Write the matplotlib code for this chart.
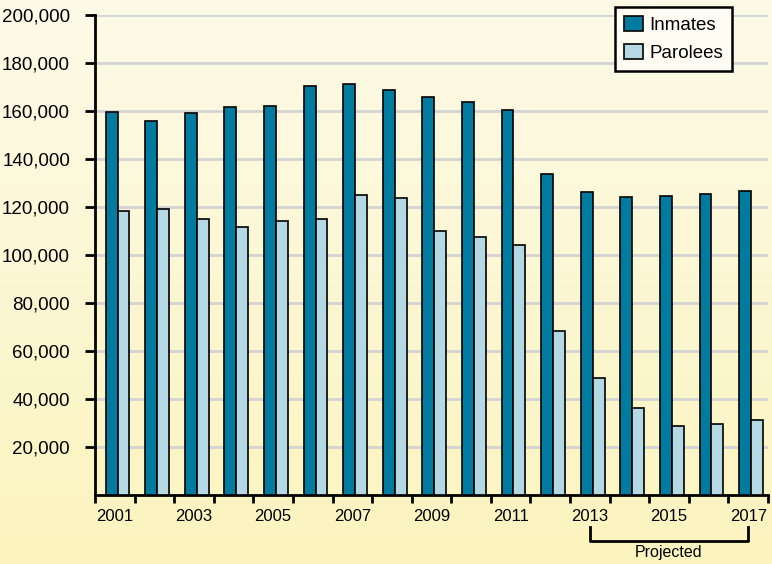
import numpy as np
import matplotlib.pyplot as plt
import matplotlib.transforms as mtransforms
from matplotlib.ticker import FuncFormatter

plt.rcParams['font.family'] = ['Liberation Sans', 'DejaVu Sans']

# Data
years = list(range(2001, 2018))
inmates = [159600, 155800, 159000, 161500, 162000, 170400, 171200, 168700, 165800,
           163700, 160400, 133600, 126200, 124200, 124600, 125300, 126700]
parolees = [118300, 119000, 114800, 111500, 114000, 115000, 124800, 123600, 110000,
            107300, 104300, 68500, 48700, 36300, 28800, 29600, 31200]
year_labels = [str(y) if y % 2 == 1 else '' for y in years]

fig = plt.figure(figsize=(7.72, 5.64), dpi=100)

# gradient background
bg = fig.add_axes([0, 0, 1, 1], zorder=-10)
grad = np.linspace(0, 1, 256).reshape(-1, 1)
top = np.array([253, 250, 232]) / 255
bottom = np.array([251, 244, 190]) / 255
img = top + (bottom - top) * grad[:, :, None]
bg.imshow(img, aspect='auto', extent=[0, 1, 0, 1])
bg.axis('off')

ax = fig.add_axes([95 / 772, 69 / 564, 673 / 772, 480 / 564])
ax.set_facecolor('none')

x = np.arange(len(years))
w = 0.3
ax.bar(x - 0.08, inmates, w, color='#007ba0', edgecolor='black', linewidth=1.2, label='Inmates', zorder=3)
ax.bar(x + 0.22, parolees, w, color='#b4d9e4', edgecolor='black', linewidth=1.2, label='Parolees', zorder=3)

ax.set_xlim(-0.5, len(years) - 0.5)
ax.set_ylim(0, 200000)
ax.set_yticks(np.arange(20000, 200001, 20000))
ax.yaxis.set_major_formatter(FuncFormatter(lambda v, p: f'{int(v):,}'))
ax.yaxis.grid(True, color='#d3d3d3', linewidth=2, zorder=0)
ax.set_axisbelow(True)

ax.set_xticks(np.arange(-0.5, len(years), 1.0))
ax.set_xticklabels([])
ax.set_xticks(x, minor=True)
ax.set_xticklabels(year_labels, minor=True, fontsize=12)
ax.tick_params(axis='x', which='minor', length=0, pad=10)
ax.tick_params(axis='x', which='major', length=6, width=2, direction='out')
ax.tick_params(axis='y', length=7, width=2, labelsize=13.5, pad=11)

for s in ['top', 'right']:
    ax.spines[s].set_visible(False)
for s in ['left', 'bottom']:
    ax.spines[s].set_linewidth(2)

# Projected bracket
trans = mtransforms.blended_transform_factory(ax.transData, ax.transAxes)
x0, x1 = 12, 16
ax.plot([x0, x0, x1, x1], [-0.067, -0.096, -0.096, -0.067], color='black', lw=2,
        transform=trans, clip_on=False)
ax.text((x0 + x1) / 2, -0.12, 'Projected', transform=trans, ha='center', va='center', fontsize=11.5)

leg = ax.legend(loc='upper right', bbox_to_anchor=(0.947, 1.017), fontsize=13.5, frameon=True,
                fancybox=False, handlelength=1.0, handleheight=0.85, borderpad=0.5,
                labelspacing=0.5, handletextpad=0.35, borderaxespad=0)
leg.get_frame().set_edgecolor('black')
leg.get_frame().set_linewidth(1.8)
leg.get_frame().set_facecolor('#fffdf3')
leg.get_frame().set_alpha(1)

fig.savefig('out.png', dpi=100)
